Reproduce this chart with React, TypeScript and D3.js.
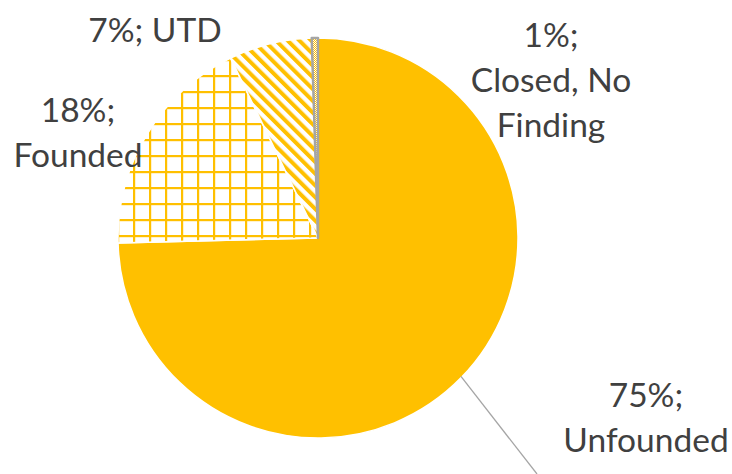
import React from "react";
import * as d3 from "d3";

const categories = ["Unfounded", "Founded", "UTD", "Closed, No Finding"];
const values = [74.6, 18.2, 6.7, 0.5];
const labelLines = [
  ["75%;", "Unfounded"],
  ["18%;", "Founded"],
  ["7%; UTD"],
  ["1%;", "Closed, No", "Finding"],
];

const W = 732;
const H = 474;
const CX = 318;
const CY = 238;
const R = 200;
const YELLOW = "#FFC000";
const GRAY = "#A5A5A5";
const TEXT = "#404040";

const labelPos = [
  { x: 646, y: 407 },
  { x: 78, y: 122 },
  { x: 155, y: 42 },
  { x: 551, y: 47 },
];
const LINE_H = 45;

export default function App() {
  const pie = d3
    .pie<number>()
    .sort(null)
    .value((d) => d)
    .startAngle(0)
    .endAngle(2 * Math.PI);
  const arcs = pie(values);
  const arc = d3.arc<d3.PieArcDatum<number>>().innerRadius(0).outerRadius(R);

  const fills = [YELLOW, "url(#grid)", "url(#diag)", "url(#dots)"];

  // leader line for Unfounded label, starting on the slice rim
  const leaderAngle = 2.34;
  const lx1 = CX + Math.sin(leaderAngle) * (R - 1);
  const ly1 = CY - Math.cos(leaderAngle) * (R - 1);

  return (
    <svg
      width={W}
      height={H}
      style={{ position: "absolute", left: 0, top: 0, display: "block", background: "#fff" }}
    >
      <defs>
        <pattern id="grid" patternUnits="userSpaceOnUse" width={16} height={16}>
          <rect width={16} height={16} fill="#fff" />
          <rect x={7} y={0} width={2.2} height={16} fill={YELLOW} />
          <rect x={0} y={13} width={16} height={2.2} fill={YELLOW} />
        </pattern>
        <pattern
          id="diag"
          patternUnits="userSpaceOnUse"
          width={8.3}
          height={8.3}
          patternTransform="rotate(-45)"
        >
          <rect width={8.3} height={8.3} fill="#fff" />
          <rect x={0} y={0} width={4} height={8.3} fill={YELLOW} />
        </pattern>
        <pattern id="dots" patternUnits="userSpaceOnUse" width={2} height={2}>
          <rect width={2} height={2} fill="#fff" />
          <rect x={0} y={0} width={1} height={1} fill={YELLOW} />
          <rect x={1} y={1} width={1} height={1} fill={YELLOW} />
        </pattern>
      </defs>
      <g transform={`translate(${CX},${CY})`}>
        {arcs.map((a, i) => (
          <path
            key={categories[i]}
            d={arc(a) || ""}
            fill={fills[i]}
            stroke={i === 3 ? GRAY : "#fff"}
            strokeWidth={i === 3 ? 2.5 : 1.5}
            strokeLinejoin="round"
          />
        ))}
      </g>
      <line
        x1={lx1}
        y1={ly1}
        x2={537}
        y2={474}
        stroke={GRAY}
        strokeWidth={1.3}
      />
      {labelLines.map((lines, i) => (
        <text
          key={categories[i]}
          x={labelPos[i].x}
          y={labelPos[i].y}
          textAnchor="middle"
          fontFamily="Lato, 'Noto Sans', sans-serif"
          fontSize={33.5}
          fill={TEXT}
        >
          {lines.map((t, j) => (
            <tspan key={j} x={labelPos[i].x} y={labelPos[i].y + j * LINE_H}>
              {t}
            </tspan>
          ))}
        </text>
      ))}
    </svg>
  );
}
